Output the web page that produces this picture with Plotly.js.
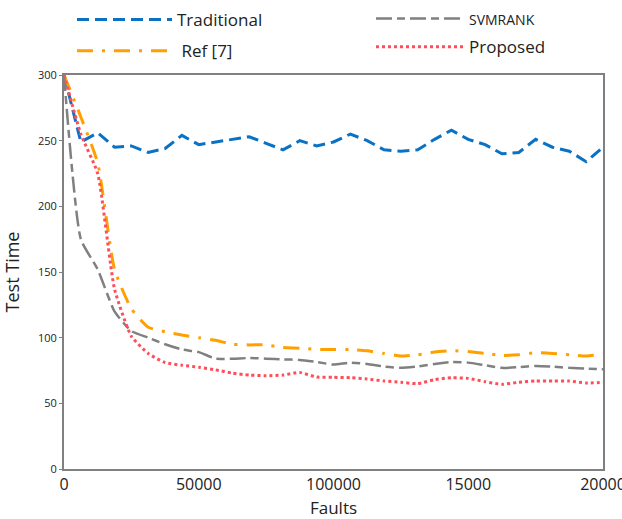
<!DOCTYPE html>
<html>
<head>
<meta charset="utf-8">
<script src="https://cdn.plot.ly/plotly-3.0.1.min.js"></script>
<style>html,body{margin:0;padding:0;background:#fff;}#chart{width:622px;height:519px;}</style>
</head>
<body>
<div id="chart"></div>
<script>
// ---- data ----
var faults = [];
for (var i = 0; i <= 32; i++) faults.push(i * 6250);

var traditional = [300, 249, 256, 245, 246, 241, 244, 254, 247, 249, 251, 253, 248, 243, 250, 246, 249,
                   255, 250, 243, 242, 243, 251, 258, 251, 247, 240, 241, 251, 245, 242, 234, 245];
var svmrank     = [300, 175, 152, 120, 105, 100, 95, 91, 89, 84, 84, 84.5, 84, 83.5, 83, 81.5, 79.5,
                   81, 80, 78, 77, 78, 80, 81.5, 81, 79, 77, 77.5, 78.5, 78, 77, 76.5, 76];
var ref7        = [300, 268, 233, 152, 122, 108, 104.5, 102, 100, 98, 95, 94.5, 94.5, 92.5, 92, 91, 91,
                   91, 90, 88, 86, 87, 89, 90, 89.5, 88, 86.5, 87, 88.5, 88, 87, 86, 87.5];
var proposed    = [300, 255, 225, 137, 101, 88, 81, 79, 77.5, 75.5, 73, 71.5, 71, 71.5, 73.5, 70, 69.8,
                   69.5, 68.5, 67, 66, 65, 68, 69.5, 69, 66.5, 64.5, 66, 67, 67, 67, 65.5, 66];

var xTickVals  = [0, 50000, 100000, 150000, 200000];
var xTickText  = ['0', '50000', '100000', '15000', '20000'];
var seriesNames = ['Traditional', 'SVMRANK', 'Ref [7]', 'Proposed'];

// ---- chart ----
var FONT = '"Open Sans", "Noto Sans", sans-serif';
var traces = [
  {x: faults, y: traditional, name: seriesNames[0], mode: 'lines', legend: 'legend', legendgroup: 'a',
   line: {color: '#0a72c4', width: 3, dash: '12px,6px', shape: 'linear'}},
  {x: faults, y: ref7, name: '\u00a0' + seriesNames[2], mode: 'lines', legend: 'legend', legendgroup: 'b',
   line: {color: '#ffa000', width: 3, dash: '16px,9px,3px,9px', shape: 'spline', smoothing: 0.5}},
  {x: faults, y: svmrank, name: '<span style="font-size:14px">' + seriesNames[1] + '</span>', mode: 'lines',
   legend: 'legend2', legendgroup: 'c',
   line: {color: '#808080', width: 2.5, dash: '16px,5px,8px,5px', shape: 'spline', smoothing: 0.5}},
  {x: faults, y: proposed, name: seriesNames[3], mode: 'lines', legend: 'legend2', legendgroup: 'd',
   line: {color: '#ff4d5a', width: 3, dash: '3px,3px', shape: 'spline', smoothing: 0.5}}
];

var legendBase = {
  xref: 'paper', yref: 'paper', yanchor: 'top', xanchor: 'left',
  orientation: 'v', traceorder: 'grouped',
  font: {size: 17, family: FONT, color: '#222'}, bgcolor: 'rgba(0,0,0,0)'
};

var layout = {
  width: 622, height: 519,
  margin: {l: 64, r: 19, t: 75, b: 50, autoexpand: false},
  paper_bgcolor: '#fff', plot_bgcolor: '#fff',
  font: {family: FONT, color: '#222'},
  showlegend: true,
  legend: Object.assign({}, legendBase, {x: 8 / 539, y: 467 / 394, itemwidth: 95, tracegroupgap: 6}),
  legend2: Object.assign({}, legendBase, {x: 307 / 539, y: 468 / 394, itemwidth: 88, tracegroupgap: 3}),
  xaxis: {
    range: [0, 200000], tickvals: xTickVals, ticktext: xTickText,
    showgrid: false, zeroline: false, showline: true, mirror: true,
    linecolor: '#808080', linewidth: 2, ticks: '', ticklabeloverflow: 'allow',
    tickfont: {size: 16, family: FONT, color: '#222'},
    title: {text: 'Faults', font: {size: 17, family: FONT, color: '#222'}}
  },
  yaxis: {
    range: [0, 300], dtick: 50, tick0: 0,
    showgrid: false, zeroline: false, showline: true, mirror: true,
    linecolor: '#808080', linewidth: 2, ticks: 'outside', ticklen: 3, tickcolor: '#808080',
    tickfont: {size: 11, family: FONT, color: '#222'},
    title: {text: 'Test Time', font: {size: 18, family: FONT, color: '#222'}}
  }
};

Plotly.newPlot('chart', traces, layout, {displayModeBar: false, staticPlot: true});
</script>
</body>
</html>
